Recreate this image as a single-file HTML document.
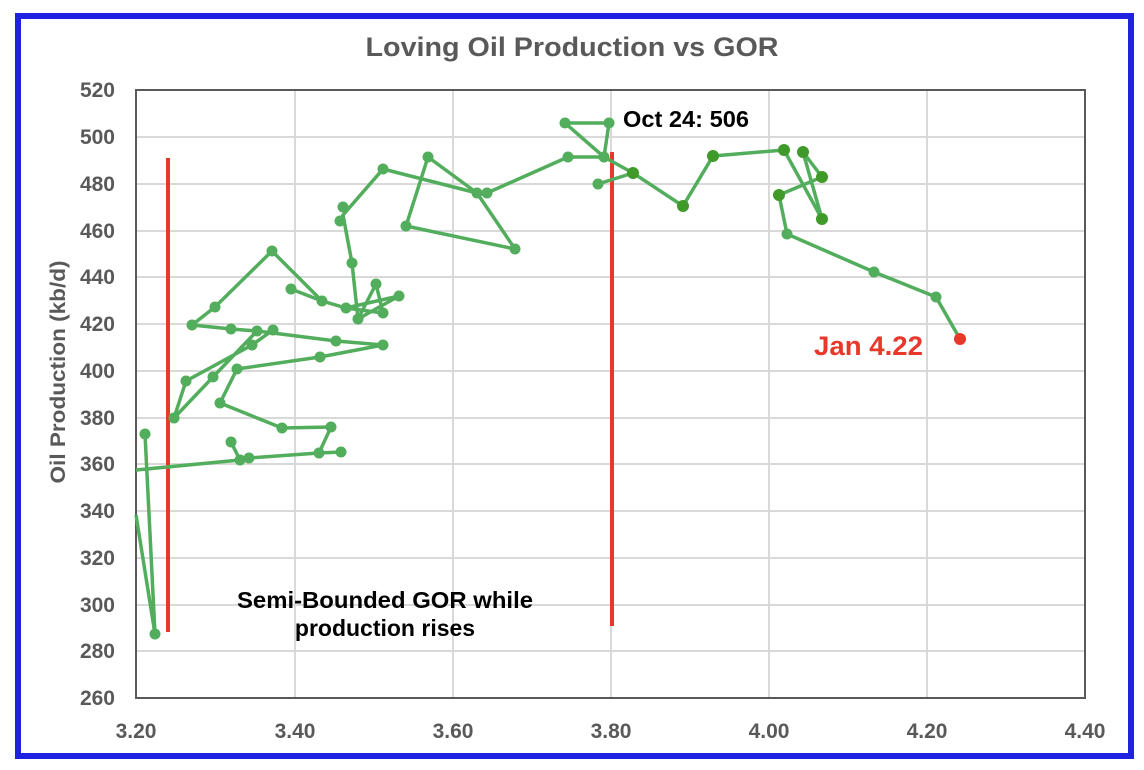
<!DOCTYPE html>
<html><head><meta charset="utf-8"><style>
html,body{margin:0;padding:0;background:#fff;}
svg{display:block;font-family:"Liberation Sans",Arial,sans-serif;}
</style></head><body>
<svg width="1144" height="770" viewBox="0 0 1144 770">
<rect x="18" y="16" width="1113" height="740" fill="#fff" stroke="#1f22e0" stroke-width="6"/>
<text x="572" y="56" text-anchor="middle" font-size="27" font-weight="bold" fill="#595959" textLength="413" lengthAdjust="spacingAndGlyphs">Loving Oil Production vs GOR</text>
<g stroke="#d9d9d9" stroke-width="2">
<line x1="136" y1="137" x2="1085" y2="137"/><line x1="136" y1="184" x2="1085" y2="184"/><line x1="136" y1="231" x2="1085" y2="231"/><line x1="136" y1="277" x2="1085" y2="277"/><line x1="136" y1="324" x2="1085" y2="324"/><line x1="136" y1="371" x2="1085" y2="371"/><line x1="136" y1="418" x2="1085" y2="418"/><line x1="136" y1="464" x2="1085" y2="464"/><line x1="136" y1="511" x2="1085" y2="511"/><line x1="136" y1="558" x2="1085" y2="558"/><line x1="136" y1="605" x2="1085" y2="605"/><line x1="136" y1="651" x2="1085" y2="651"/>
<line x1="295" y1="90" x2="295" y2="698"/><line x1="453" y1="90" x2="453" y2="698"/><line x1="611" y1="90" x2="611" y2="698"/><line x1="769" y1="90" x2="769" y2="698"/><line x1="927" y1="90" x2="927" y2="698"/>
</g>
<rect x="136" y="90" width="949" height="608" fill="none" stroke="#595959" stroke-width="2"/>
<g font-size="21" font-weight="bold" fill="#595959" text-anchor="end">
<text x="115" y="97">520</text><text x="115" y="144">500</text><text x="115" y="191">480</text><text x="115" y="238">460</text><text x="115" y="284">440</text><text x="115" y="331">420</text><text x="115" y="378">400</text><text x="115" y="425">380</text><text x="115" y="471">360</text><text x="115" y="518">340</text><text x="115" y="565">320</text><text x="115" y="612">300</text><text x="115" y="658">280</text><text x="115" y="705">260</text>
</g>
<g font-size="21" font-weight="bold" fill="#595959" text-anchor="middle">
<text x="136" y="738">3.20</text><text x="295" y="738">3.40</text><text x="453" y="738">3.60</text><text x="611" y="738">3.80</text><text x="769" y="738">4.00</text><text x="927" y="738">4.20</text><text x="1085" y="738">4.40</text>
</g>
<text transform="translate(65,372) rotate(-90)" text-anchor="middle" font-size="21" font-weight="bold" fill="#595959" textLength="223" lengthAdjust="spacingAndGlyphs">Oil Production (kb/d)</text>
<line x1="168" y1="158" x2="168" y2="632" stroke="#e8382b" stroke-width="4"/>
<line x1="612" y1="152" x2="612" y2="626" stroke="#e8382b" stroke-width="4"/>
<g fill="none" stroke="#52ad5c" stroke-width="3.5" stroke-linejoin="round">
<path d="M136,515 L155,634 L145,434
M136,470 L240,460 L249,458 L319,453 L341,452
M231,442 L240,460
M319,453 L331,427 L282,428 L220,403 L237,369 L320,357 L383,345
M383,345 L336,341 L257,331 L231,329 L192,325 L215,307 L272,251 L322,301 L346,308
M273,330 L252,345 L186,381 L174,418 L213,377 L257,331
M291,289 L322,301 M346,308 L399,296 L358,319 L376,284 L383,313 L346,308
M358,319 L352,263 L343,215 L340,221 M343,215 L383,169 L477,193 L487,193 L568,157 L604,157 L565,123 L609,123 L604,157 L633,173 L683,206 L713,156 L784,150 L822,219 L803,152 L822,177 L779,195 L787,234 L874,272 L936,297 L960,339
M598,184 L633,173
M406,226 L428,157 L477,193 L515,249 L406,226"/>
</g>
<g fill="#52ad5c">
<circle cx="145" cy="434" r="5.5"/><circle cx="155" cy="634" r="5.5"/><circle cx="240" cy="460" r="5.5"/><circle cx="249" cy="458" r="5.5"/><circle cx="319" cy="453" r="5.5"/><circle cx="341" cy="452" r="5.5"/><circle cx="231" cy="442" r="5.5"/><circle cx="331" cy="427" r="5.5"/><circle cx="282" cy="428" r="5.5"/><circle cx="220" cy="403" r="5.5"/><circle cx="237" cy="369" r="5.5"/><circle cx="320" cy="357" r="5.5"/><circle cx="383" cy="345" r="5.5"/><circle cx="336" cy="341" r="5.5"/><circle cx="257" cy="331" r="5.5"/><circle cx="273" cy="330" r="5.5"/><circle cx="231" cy="329" r="5.5"/><circle cx="192" cy="325" r="5.5"/><circle cx="215" cy="307" r="5.5"/><circle cx="272" cy="251" r="5.5"/><circle cx="322" cy="301" r="5.5"/><circle cx="346" cy="308" r="5.5"/><circle cx="252" cy="345" r="5.5"/><circle cx="186" cy="381" r="5.5"/><circle cx="174" cy="418" r="5.5"/><circle cx="213" cy="377" r="5.5"/><circle cx="291" cy="289" r="5.5"/><circle cx="399" cy="296" r="5.5"/><circle cx="358" cy="319" r="5.5"/><circle cx="376" cy="284" r="5.5"/><circle cx="383" cy="313" r="5.5"/><circle cx="352" cy="263" r="5.5"/><circle cx="343" cy="207" r="5.5"/><circle cx="340" cy="221" r="5.5"/><circle cx="383" cy="169" r="5.5"/><circle cx="477" cy="193" r="5.5"/><circle cx="487" cy="193" r="5.5"/><circle cx="568" cy="157" r="5.5"/><circle cx="604" cy="157" r="5.5"/><circle cx="565" cy="123" r="5.5"/><circle cx="609" cy="123" r="5.5"/><circle cx="598" cy="184" r="5.5"/><circle cx="406" cy="226" r="5.5"/><circle cx="428" cy="157" r="5.5"/><circle cx="515" cy="249" r="5.5"/>
</g>
<g fill="#3f9a2a">
<circle cx="633" cy="173" r="6"/><circle cx="683" cy="206" r="6"/><circle cx="713" cy="156" r="6"/><circle cx="784" cy="150" r="6"/><circle cx="803" cy="152" r="6"/><circle cx="822" cy="219" r="6"/><circle cx="822" cy="177" r="6"/><circle cx="779" cy="195" r="6"/>
</g>
<g fill="#52ad5c"><circle cx="787" cy="234" r="5.5"/><circle cx="874" cy="272" r="5.5"/><circle cx="936" cy="297" r="5.5"/></g>
<circle cx="960" cy="339" r="6" fill="#e8382b"/>
<text x="623" y="127" font-size="23" font-weight="bold" fill="#000" textLength="126" lengthAdjust="spacingAndGlyphs">Oct 24: 506</text>
<text x="814" y="355" font-size="27" font-weight="bold" fill="#e8382b" textLength="109" lengthAdjust="spacingAndGlyphs">Jan 4.22</text>
<text x="385" y="608" text-anchor="middle" font-size="23" font-weight="bold" fill="#000" textLength="296" lengthAdjust="spacingAndGlyphs">Semi-Bounded GOR while</text>
<text x="385" y="636" text-anchor="middle" font-size="23" font-weight="bold" fill="#000">production rises</text>
</svg>
</body></html>
